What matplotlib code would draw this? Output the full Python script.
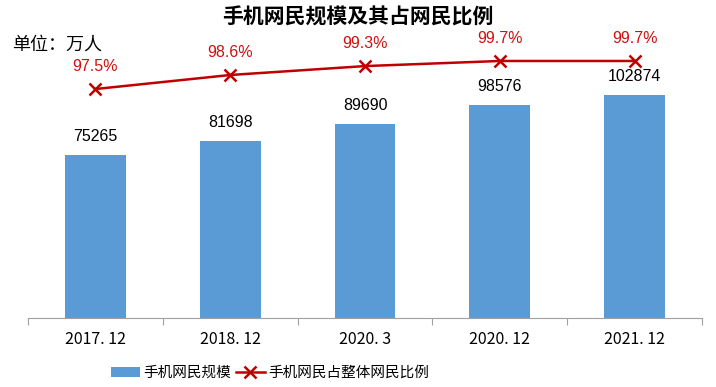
import matplotlib
matplotlib.use("Agg")
import matplotlib.pyplot as plt
from matplotlib.lines import Line2D
from matplotlib.patches import Patch

plt.rcParams['font.family'] = ['Noto Sans CJK SC', 'DejaVu Sans']

categories = ["2017. 12", "2018. 12", "2020. 3", "2020. 12", "2021. 12"]
users = [75265, 81698, 89690, 98576, 102874]
share = [97.5, 98.6, 99.3, 99.7, 99.7]
share_labels = ["97.5%", "98.6%", "99.3%", "99.7%", "99.7%"]

W, H = 716, 387
fig = plt.figure(figsize=(W/100, H/100), dpi=100)

ax = fig.add_axes([28/W, (H-318)/H, (702-28)/W, (318-30)/H])
x = list(range(len(categories)))
ax.bar(x, users, width=0.45, color='#5B9BD5', zorder=2)
ax.set_xlim(-0.5, len(categories)-0.5)
ax.set_ylim(0, 133000)
for xi, v in zip(x, users):
    ax.text(xi, v + 5000, str(v), ha='center', va='bottom', fontsize=11.5,
            family='Liberation Sans', color='black')
for s in ['top', 'right', 'left']:
    ax.spines[s].set_visible(False)
ax.spines['bottom'].set_color('#a0a0a0')
ax.set_yticks([])
ax.set_xticks([i - 0.5 for i in range(len(categories)+1)])
ax.set_xticklabels([])
ax.tick_params(axis='x', length=5, color='#a0a0a0', direction='out')
for xi, c in zip(x, categories):
    ax.text(xi, -0.075, c, transform=ax.get_xaxis_transform(), ha='center', va='center',
            fontsize=11.5)

ax2 = ax.twinx()
ax2.set_ylim(79.54, 102.13)
ax2.plot(x, share, color='#C00000', lw=1.8, marker='x', markersize=9, mew=1.8, zorder=3)
for xi, v, lab in zip(x, share, share_labels):
    ax2.text(xi, v + 1.75, lab, ha='center', va='center', fontsize=11.5,
             color='#D01010', family='Liberation Sans')
ax2.axis('off')

fig.text(358/W, 1 - 17/H, "手机网民规模及其占网民比例", ha='center', va='center',
         fontsize=15, fontweight='bold')
fig.text(12/W, 1 - 45/H, "单位：万人", ha='left', va='center', fontsize=13)

handles = [Patch(facecolor='#5B9BD5'),
           Line2D([0], [0], color='#C00000', lw=1.8, marker='x', markersize=8, mew=1.8)]
fig.legend(handles, ["手机网民规模", "手机网民占整体网民比例"], loc='center',
           bbox_to_anchor=(270/W, 1 - 373/H), ncol=2, frameon=False, fontsize=10.5,
           handlelength=2.0, handletextpad=0.25, columnspacing=0.3)

fig.savefig("out.png", dpi=100)
